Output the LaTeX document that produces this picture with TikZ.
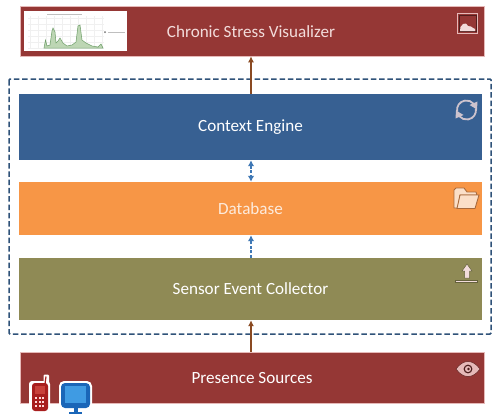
\documentclass[tikz,border=0pt]{standalone}
\usepackage{fontspec}
\setmainfont{Carlito}
\usetikzlibrary{arrows.meta}
\definecolor{redbar}{HTML}{953735}
\definecolor{redline}{HTML}{E6B9B8}
\definecolor{bluebar}{HTML}{376092}
\definecolor{orangebar}{HTML}{F79646}
\definecolor{olivebar}{HTML}{8F8A55}
\definecolor{dashblue}{HTML}{2F5279}
\definecolor{brownarrow}{HTML}{8A4A22}
\definecolor{arrowblue}{HTML}{3F78B5}
\definecolor{iconpale}{HTML}{F2DCDB}
\definecolor{folderpale}{HTML}{FBDFC8}
\definecolor{dbtext}{HTML}{FDEBDD}
\definecolor{folderedge}{HTML}{A8693C}
\definecolor{monitorblue}{HTML}{1A66B8}
\definecolor{monitorscreen}{HTML}{3F9BE3}
\definecolor{phonered}{HTML}{A81E1E}
\definecolor{phonescreen}{HTML}{C8403A}
\definecolor{chartfill}{HTML}{BDD6B4}
\definecolor{chartedge}{HTML}{6F9F6A}
\newcommand{\barlabel}[1]{\raisebox{-1pt}{#1}}
\tikzset{
  x=1pt,y=-1pt,
  labelfont/.style={font=\fontsize{17.1}{20}\selectfont},
  bar/.style={minimum height=#1,inner sep=0pt,text=white,labelfont},
  brownlink/.style={draw=brownarrow,line width=1.5pt,-{Latex[length=6pt,width=6pt]}},
  bluelink/.style={draw=arrowblue,line width=1.3pt,dash pattern=on 3pt off 1.6pt},
  bluetip/.style={{Latex[length=6pt,width=6.5pt]}-{Latex[length=6pt,width=6.5pt]}},
  bluetipup/.style={-{Latex[length=6pt,width=6.5pt]}},
}
\begin{document}
\begin{tikzpicture}
\useasboundingbox (0,0) rectangle (500,418);
\fill[white] (0,0) rectangle (500,418);
\draw[dashblue,line width=1.5pt,dash pattern=on 5.5pt off 2.8pt,rounded corners=1pt] (9,79) rectangle (491,334);
\node[bar=50pt,minimum width=464pt,fill=redbar,draw=redline,line width=.5pt] (viz) at (252,31) {};
\node[bar=66pt,minimum width=463pt,fill=bluebar] (engine) at (250.5,127) {\barlabel{Context Engine}};
\node[bar=53pt,minimum width=463pt,fill=orangebar,text=dbtext] (db) at (250.5,208.5) {\barlabel{Database}};
\node[bar=62pt,minimum width=463pt,fill=olivebar] (collector) at (250.5,289) {\barlabel{Sensor Event Collector}};
\node[bar=51pt,minimum width=464pt,fill=redbar,draw=redline,line width=.5pt] (sources) at (252,377.5) {};
\node[text=iconpale,labelfont,inner sep=0pt] (vizlabel) at (251,32) {Chronic Stress Visualizer};
\node[text=white,labelfont,inner sep=0pt] (srclabel) at (252,378.5) {Presence Sources};
% connectors
\coordinate (axis) at (251,0);
\draw[brownlink] (axis |- engine.north) -- (axis |- viz.south);
\draw[brownlink] (axis |- sources.north) -- (axis |- collector.south);
\draw[bluelink,bluetip] (axis |- engine.south) -- (axis |- db.north);
\draw[bluelink,bluetipup] (axis |- collector.north) -- (axis |- db.south);
% chart
\fill[white] (24,11) rectangle (127,51);
\foreach \gx in {30,38,...,104} \draw[black!6,line width=.3pt] (\gx,16) -- (\gx,49);
\foreach \gy in {18,24,...,48} \draw[black!6,line width=.3pt] (28,\gy) -- (104,\gy);
\fill[chartfill,draw=chartedge,line width=.5pt]
 (44,48) -- (45.5,40) -- (47,46) -- (50,45) -- (52,31) -- (53,28) -- (55,32) -- (56,43) -- (58,41) -- (60,38) -- (63,43) -- (67,46) -- (72,45) -- (76,42) -- (78,26) -- (80,25) -- (82,40) -- (86,43) -- (92,46) -- (98,47) -- (101,44) -- (103,48) -- cycle;
\fill[black!55] (105,32) circle[radius=1];
\draw[black!25,line width=.5pt] (108,32) -- (125,32);
\draw[black!25,line width=.4pt] (47,14) -- (82,14);
% picture icon
\draw[draw=redline,line width=1pt] (457.5,13.5) rectangle (477.5,33);
\draw[draw=black!45!redbar,line width=.6pt] (459.2,15.2) rectangle (475.8,31.3);
\fill[iconpale] (460,31) -- (460.5,27) -- (463,24) -- (466,23.5) -- (468,26) -- (471,26.5) -- (473,28) -- (475,29) -- (475,31) -- cycle;
% cycle icon
\draw[iconpale!80!bluebar,line width=1.8pt] (457.1,111.6) arc[start angle=-190,end angle=-40,radius=9.5] coordinate (c1);
\fill[iconpale!80!bluebar] (469.5,105) -- (477.5,101.5) -- (477,109.5) -- cycle;
\draw[iconpale!80!bluebar,line width=1.8pt] (475.9,108.4) arc[start angle=-10,end angle=140,radius=9.5] coordinate (c2);
\fill[iconpale!80!bluebar] (463.5,115) -- (455.5,118.5) -- (456,110.5) -- cycle;
% folder icon
\fill[folderpale,draw=folderedge,line width=.9pt] (454,208) -- (454,190) -- (456,188) -- (464,188) -- (467,192) -- (476,192) -- (477,195) -- (460,195) -- (458,208) -- cycle;
\fill[folderpale,draw=folderedge,line width=.9pt] (457,208.5) -- (460,195) -- (479,195) -- (475,208.5) -- cycle;
% upload icon
\fill[iconpale,draw=black!30!olivebar,line width=.5pt] (462,271) -- (467,264) -- (472,271) -- (469.5,271) -- (469.5,278) -- (464.5,278) -- (464.5,271) -- cycle;
\fill[iconpale,draw=black!30!olivebar,line width=.5pt] (455.5,280) rectangle (477.5,282.5);
% eye icon
\fill[redline,draw=black!35!redbar,line width=.5pt] (456,369) .. controls (463,359) and (473,359) .. (480,369) .. controls (473,379) and (463,379) .. (456,369) -- cycle;
\draw[black!50!redbar,line width=1.1pt] (468,369) circle[radius=3.8];
\fill[black!50!redbar] (468.5,369) circle[radius=1.3];
% phone icon
\fill[white,rounded corners=3pt] (29,381) rectangle (50,414);
\fill[white,rounded corners=1pt] (43.5,374.5) rectangle (49,383);
\fill[phonered,rounded corners=3pt] (32,383) rectangle (48,411);
\draw[phonered,line width=1.2pt] (45,384) -- (46,376.5);
\fill[phonescreen] (35,386) rectangle (45,394);
\foreach \py in {397,401,405} \foreach \px in {36,39.5,43} \fill[white!85!red] (\px-1,\py) rectangle (\px+1,\py+2.4);
% monitor icon
\fill[white,rounded corners=5pt] (59,381) rectangle (92,416);
\fill[monitorblue,rounded corners=4pt] (61,383) rectangle (90,408);
\fill[monitorscreen] (65,386) rectangle (86,403);
\fill[monitorblue] (73.5,408) rectangle (78,412);
\fill[monitorblue] (69,411.5) rectangle (82,414);
\end{tikzpicture}
\end{document}
